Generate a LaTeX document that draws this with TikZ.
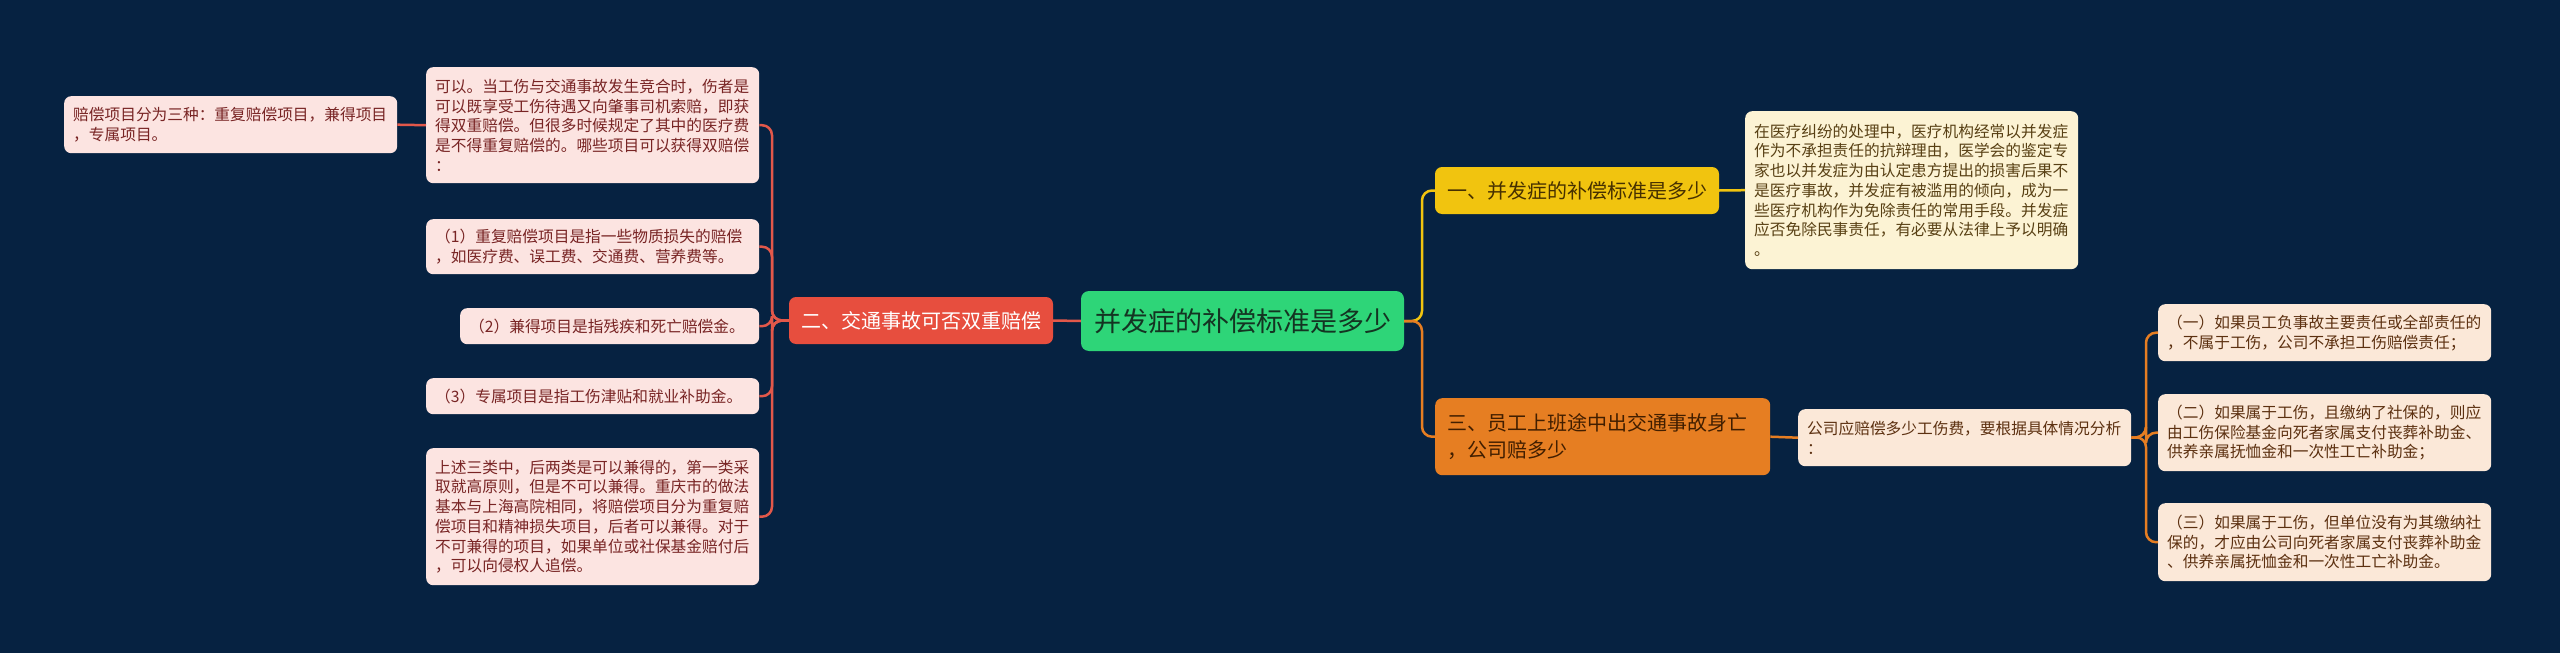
\documentclass[tikz,border=0pt]{standalone}
\usepackage{fontspec}
\setmainfont{Noto Sans CJK SC}
\definecolor{bg}{RGB}{6,34,65}
\definecolor{rootf}{RGB}{46,213,120}
\definecolor{roott}{RGB}{20,52,34}
\definecolor{redf}{RGB}{231,78,62}
\definecolor{yelf}{RGB}{241,196,15}
\definecolor{yelt}{RGB}{70,48,0}
\definecolor{orf}{RGB}{230,126,34}
\definecolor{ort}{RGB}{65,30,0}
\definecolor{pinkf}{RGB}{252,228,225}
\definecolor{pinkt}{RGB}{120,36,36}
\definecolor{creamf}{RGB}{252,243,212}
\definecolor{creamt}{RGB}{88,64,20}
\definecolor{peachf}{RGB}{251,232,216}
\definecolor{peacht}{RGB}{92,48,16}
\definecolor{redl}{RGB}{226,88,74}
\newcommand\leaffont{\fontsize{15.7pt}{19.7pt}\selectfont}
\newcommand\branchfont{\fontsize{20pt}{27pt}\selectfont}
\tikzset{
  base/.style={rounded corners=7pt, inner xsep=9pt, inner ysep=0pt, align=left, anchor=north west},
  pinkleaf/.style={base, fill=pinkf, text=pinkt, font=\leaffont},
  creamleaf/.style={base, fill=creamf, text=creamt, font=\leaffont},
  peachleaf/.style={base, fill=peachf, text=peacht, font=\leaffont},
  branchbox/.style={rounded corners=7pt, inner xsep=12pt, inner ysep=0pt, align=left, font=\branchfont},
  redline/.style={draw=redl, line width=2.5pt, rounded corners=10pt},
  yline/.style={draw=yelf, line width=2.5pt, rounded corners=10pt},
  oline/.style={draw=orf, line width=2.5pt, rounded corners=10pt},
}
\begin{document}
\begin{tikzpicture}[x=1pt,y=-1pt]
\fill[bg] (0,0) rectangle (2560,653);
\useasboundingbox (0,0) rectangle (2560,653);

% root
\node[rounded corners=8pt, fill=rootf, text=roott, minimum width=323pt, minimum height=60pt,
  font=\fontsize{27pt}{32pt}\selectfont] (root) at (1242.5,321) {并发症的补偿标准是多少};

% left branch
\node[branchbox, fill=redf, text=white, minimum width=264pt, minimum height=47pt] (red) at (921,320.5) {二、交通事故可否双重赔偿};

\node[pinkleaf, text width=315pt, minimum height=57pt] (ll) at (64,96) {赔偿项目分为三种：重复赔偿项目，兼得项目\\，专属项目。};
\node[pinkleaf, text width=315pt, minimum height=116pt] (l0) at (426,67) {可以。当工伤与交通事故发生竞合时，伤者是\\可以既享受工伤待遇又向肇事司机索赔，即获\\得双重赔偿。但很多时候规定了其中的医疗费\\是不得重复赔偿的。哪些项目可以获得双赔偿\\：};
\node[pinkleaf, text width=315pt, minimum height=55pt] (l1) at (426,219) {（1）重复赔偿项目是指一些物质损失的赔偿\\，如医疗费、误工费、交通费、营养费等。};
\node[pinkleaf, text width=281pt, minimum height=36pt] (l2) at (460,308) {（2）兼得项目是指残疾和死亡赔偿金。};
\node[pinkleaf, text width=315pt, minimum height=36pt] (l3) at (426,378) {（3）专属项目是指工伤津贴和就业补助金。};
\node[pinkleaf, text width=315pt, minimum height=137pt] (l4) at (426,448) {上述三类中，后两类是可以兼得的，第一类采\\取就高原则，但是不可以兼得。重庆市的做法\\基本与上海高院相同，将赔偿项目分为重复赔\\偿项目和精神损失项目，后者可以兼得。对于\\不可兼得的项目，如果单位或社保基金赔付后\\，可以向侵权人追偿。};

% right branches
\node[branchbox, fill=yelf, text=yelt, minimum width=284pt, minimum height=47pt] (y1) at (1577,190.5) {一、并发症的补偿标准是多少};
\node[creamleaf, text width=315pt, minimum height=158pt] (r1) at (1745,111) {在医疗纠纷的处理中，医疗机构经常以并发症\\作为不承担责任的抗辩理由，医学会的鉴定专\\家也以并发症为由认定患方提出的损害后果不\\是医疗事故，并发症有被滥用的倾向，成为一\\些医疗机构作为免除责任的常用手段。并发症\\应否免除民事责任，有必要从法律上予以明确\\。};

\node[branchbox, anchor=north west, fill=orf, text=ort, text width=311pt, minimum height=77pt] (o1) at (1435,398) {三、员工上班途中出交通事故身亡\\，公司赔多少};
\node[peachleaf, text width=315pt, minimum height=57pt] (r3) at (1798,409) {公司应赔偿多少工伤费，要根据具体情况分析\\：};

\node[peachleaf, text width=315pt, minimum height=57pt] (s1) at (2158,304) {（一）如果员工负事故主要责任或全部责任的\\，不属于工伤，公司不承担工伤赔偿责任；};
\node[peachleaf, text width=315pt, minimum height=77pt] (s2) at (2158,394) {（二）如果属于工伤，且缴纳了社保的，则应\\由工伤保险基金向死者家属支付丧葬补助金、\\供养亲属抚恤金和一次性工亡补助金；};
\node[peachleaf, text width=315pt, minimum height=78pt] (s3) at (2158,503) {（三）如果属于工伤，但单位没有为其缴纳社\\保的，才应由公司向死者家属支付丧葬补助金\\、供养亲属抚恤金和一次性工亡补助金。};

% connectors
\coordinate (lbar) at (772,320.5);
\coordinate (rbar) at (1422,321);
\coordinate (sbar) at (2146,437);

\draw[redline] (root.west) -- (red.east);
\foreach \n in {l0,l1,l2,l3,l4} {\draw[redline] (red.west) -- (lbar) |- (\n.east);}
\draw[redline] (ll.east) -- (l0.west);

\draw[yline] (root.east) -- (rbar) |- (y1.west);
\draw[oline] (root.east) -- (rbar) |- (o1.west);
\draw[yline] (y1.east) -- (r1.west);
\draw[oline] (o1.east) -- (r3.west);
\foreach \n in {s1,s2,s3} {\draw[oline] (r3.east) -- (sbar) |- (\n.west);}
\end{tikzpicture}
\end{document}
